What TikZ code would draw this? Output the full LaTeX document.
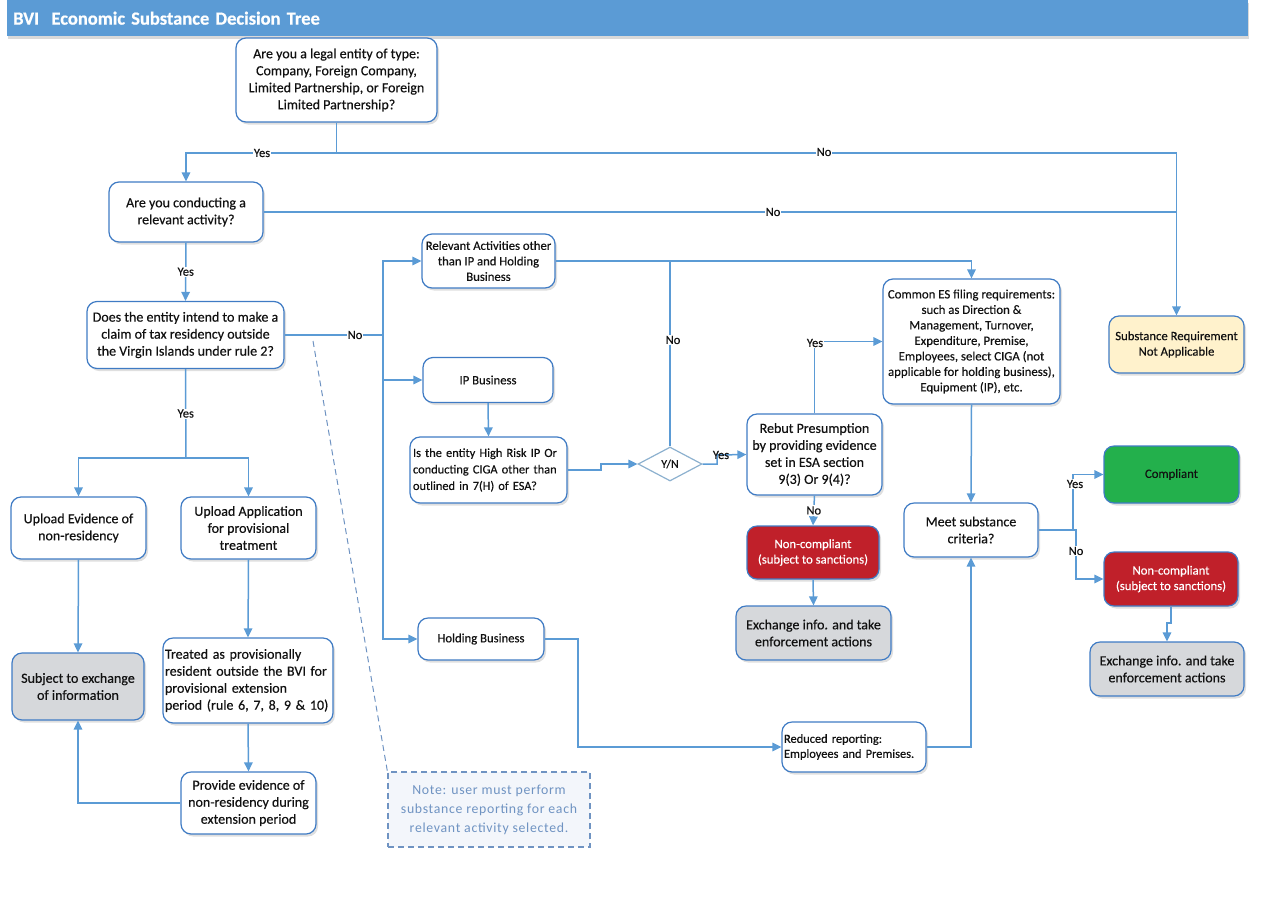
\documentclass[tikz,border=0pt]{standalone}
\usepackage{fontspec}
\setmainfont[FakeBold=0.35]{Carlito}
\newfontfamily\notefont[LetterSpace=5]{Carlito}
\newfontfamily\titlefont[FakeBold=0.6]{Carlito}
\usetikzlibrary{shapes.geometric,arrows.meta,shadows}
\definecolor{linec}{HTML}{5B9BD5}
\definecolor{bordc}{HTML}{3F7BC4}
\definecolor{titlec}{HTML}{5B9BD5}
\definecolor{grayf}{HTML}{D6D8DB}
\definecolor{redf}{HTML}{C0202A}
\definecolor{greenf}{HTML}{23B04C}
\definecolor{yelf}{HTML}{FFF2CC}
\definecolor{notec}{HTML}{6F93C2}
\definecolor{diac}{HTML}{8DB1CF}
\definecolor{notef}{HTML}{F3F6FB}
\definecolor{txtc}{HTML}{111111}
\begin{document}
\begin{tikzpicture}[x=1pt,y=-1pt,
  conn/.style={draw=linec, line width=1.5pt, -{Triangle[length=9pt,width=8.5pt]}},
  plain/.style={draw=linec, line width=1.5pt},
  box/.style={draw=bordc, line width=1.2pt, rounded corners=10pt, fill=white, align=center,
    inner sep=2pt, text=txtc, font=\fontsize{14}{17}\selectfont,
    drop shadow={shadow xshift=2pt,shadow yshift=-2.5pt,opacity=0.25}},
  sm/.style={font=\fontsize{12.7}{15.5}\selectfont},
  wh/.style 2 args={minimum width=#1pt, minimum height=#2pt},
  lbl/.style={fill=white, inner sep=1pt, text=txtc, font=\fontsize{12.5}{14}\selectfont},
  grayb/.style={fill=grayf},
  redb/.style={fill=redf, text=white},
]
\useasboundingbox (0,0) rectangle (1263,916);

% title bar
\node[fill=titlec, text=white, font=\titlefont\fontsize{18.5}{20}\bfseries, anchor=north west,
  minimum width=1241pt, minimum height=36pt, text width=1229pt, inner xsep=6pt, align=left,
  drop shadow={shadow xshift=1pt,shadow yshift=-2.5pt,opacity=0.3}]
  (title) at (7,0) {BVI\ \ Economic Substance Decision Tree};

% nodes
\node[box, wh={201}{84}] (q1) at (336.5,80) {Are you a legal entity of type:\\Company, Foreign Company,\\Limited Partnership, or Foreign\\Limited Partnership?};
\node[box, wh={154}{60}] (q2) at (186,212) {Are you conducting a\\relevant activity?};
\node[box, wh={197}{67}] (q3) at (185.5,335) {Does the entity intend to make a\\claim of tax residency outside\\the Virgin Islands under rule 2?};
\node[box, wh={135}{62}] (upev) at (78.5,528) {Upload Evidence of\\non-residency};
\node[box, wh={135}{62}] (upapp) at (248.5,528) {Upload Application\\for provisional\\treatment};
\node[box, grayb, wh={132}{67}] (subj) at (78,686.5) {Subject to exchange\\of information};
\node[box, wh={170}{85}, align=left, text width=166pt, inner xsep=2pt] (treat) at (248,680.5) {Treated as provisionally\\resident outside the BVI for\\provisional extension\\period (rule 6, 7, 8, 9 \& 10)};
\node[box, wh={135}{62}] (prov) at (248.5,803) {Provide evidence of\\non-residency during\\extension period};

\node[box, sm, wh={133}{54}] (rel) at (488.5,261) {Relevant Activities other\\than IP and Holding\\Business};
\node[box, sm, wh={130}{45}] (ipb) at (488,380) {IP Business};
\node[box, wh={157}{66}, align=left, text width=151pt, inner xsep=3pt, font=\fontsize{12.4}{16.5}\selectfont] (risk) at (488.5,470) {Is the entity High Risk IP Or\\conducting CIGA other than\\outlined in 7(H) of ESA?};
\node[box, sm, wh={126}{42}] (hold) at (481,639) {Holding Business};
\node[diamond, draw=diac, line width=1.2pt, fill=white, minimum width=64pt, minimum height=34pt, inner sep=0pt, text=txtc, font=\fontsize{12}{13}\selectfont] (dia) at (670,464) {Y/N};

\node[box, wh={135}{81}] (rebut) at (814.5,454.5) {Rebut Presumption\\by providing evidence\\set in ESA section\\9(3) Or 9(4)?};
\node[box, redb, sm, wh={132}{53}] (nc1) at (813,552.5) {Non-compliant\\(subject to sanctions)};
\node[box, grayb, wh={155}{54}] (ex1) at (813.5,633) {Exchange info. and take\\enforcement actions};
\node[box, wh={177}{125}, inner xsep=1pt, font=\fontsize{12.8}{15.5}\selectfont] (com) at (971.5,341.5) {Common ES filing requirements:\\such as Direction \&\\Management, Turnover,\\Expenditure, Premise,\\Employees, select CIGA (not\\applicable for holding business),\\Equipment (IP), etc.};
\node[box, wh={134}{54}] (meet) at (971,530) {Meet substance\\criteria?};
\node[box, wh={144}{50}, align=left, text width=140pt, inner xsep=2pt, font=\fontsize{12.4}{15}\selectfont] (red) at (854,747) {Reduced reporting:\\Employees and Premises.};

\node[box, sm, fill=yelf, wh={135}{57}] (subst) at (1176.5,344.5) {Substance Requirement\\Not Applicable};
\node[box, sm, fill=greenf, wh={135}{57}] (compl) at (1171.5,474.5) {Compliant};
\node[box, redb, sm, wh={134}{54}] (nc2) at (1171,579) {Non-compliant\\(subject to sanctions)};
\node[box, grayb, wh={154}{54}] (ex2) at (1167,669) {Exchange info. and take\\enforcement actions};

\node[draw=notec, dashed, dash pattern=on 6pt off 4pt, line width=1.2pt, fill=notef, text=notec,
  minimum width=202pt, minimum height=75pt, align=center, inner sep=1pt,
  font=\notefont\fontsize{13.8}{19}\selectfont] (note) at (489,809.5)
  {Note: user must perform\\substance reporting for each\\relevant activity selected.};

% coordinates
\coordinate (j1) at (336.5,153);
\coordinate (j2) at (186,458);
\coordinate (j3) at (383,335);
\coordinate (cs) at (313,341);

% connectors
\draw[plain] (q1.south) -- (j1);
\draw[conn] (j1) -| (q2.north);
\draw[conn] (j1) -| (subst.north);
\node[lbl] at (262,153) {Yes};
\node[lbl] at (824,152) {No};
\draw[plain] (q2.east) -- (q2.east -| subst.north);
\node[lbl] at (773,212) {No};
\draw[conn] (q2.south) -- node[lbl] {Yes} (q3.north);

\draw[plain] (q3.east) -- (j3);
\node[lbl] at (355,335) {No};
\draw[conn] (j3) |- (rel.west);
\draw[conn] (j3) |- (ipb.west);
\draw[conn] (j3) |- (hold.west);

\draw[plain] (q3.south) -- node[lbl] {Yes} (j2);
\draw[conn] (j2) -| (upev.north);
\draw[conn] (j2) -| (upapp.north);
\draw[conn] (upev.south) -- (subj.north);
\draw[conn] (upapp.south) -- (treat.north);
\draw[conn] (treat.south) -- (prov.north);
\draw[conn] (prov.west) -| (subj.south);

\draw[conn] (ipb.south) -- (risk.north);
\draw[conn] (risk.east) -- (601,470) -- (601,464) -- (dia.west);
\draw[plain] (dia.north) -- (670,261);
\node[lbl] at (673,340) {No};
\draw[conn] (rel.east) -| (com.north);
\draw[conn] (dia.east) -- (717,464) -- (717,455) -- (rebut.west);
\node[lbl, fill=none] at (721,455) {Yes};
\draw[conn] (rebut.north) |- (com.west);
\node[lbl] at (815,343) {Yes};
\draw[conn] (rebut.south) -- node[lbl] {No} (nc1.north);
\draw[conn] (nc1.south) -- (ex1.north);
\draw[conn] (com.south) -- (meet.north);
\draw[conn] (hold.east) -- (578,639) -- (578,747) -- (red.west);
\draw[conn] (red.east) -| (meet.south);
\draw[conn] (meet.east) -- (1073,530) |- (compl.west);
\draw[conn] (1073,530) -- (1076,530) |- (nc2.west);
\node[lbl] at (1075,484) {Yes};
\node[lbl] at (1076,551) {No};
\draw[conn] (nc2.south) -- (1171,623) -- (1167,623) -- (ex2.north);

\draw[draw=notec, dashed, dash pattern=on 6pt off 4pt, line width=1pt] (cs) -- (note.north west);
\end{tikzpicture}
\end{document}
